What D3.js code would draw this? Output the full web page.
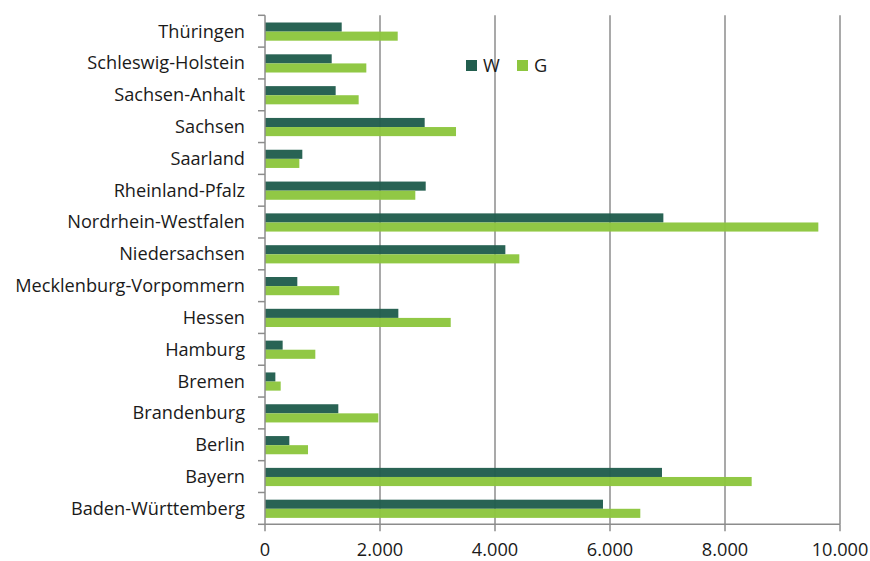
<!DOCTYPE html>
<html><head><meta charset="utf-8">
<script src="https://cdn.jsdelivr.net/npm/d3@7"></script>
<style>body{margin:0;background:#fff}svg{display:block}text{font-family:"Open Sans",Lato,sans-serif;fill:#1a1a1a}</style>
</head><body><svg id="c" width="870" height="561"></svg>
<script>
const categories = ["Thüringen","Schleswig-Holstein","Sachsen-Anhalt","Sachsen","Saarland","Rheinland-Pfalz","Nordrhein-Westfalen","Niedersachsen","Mecklenburg-Vorpommern","Hessen","Hamburg","Bremen","Brandenburg","Berlin","Bayern","Baden-Württemberg"];
const seriesNames = ["W","G"];
const valuesW = [1334,1160,1229,2777,649,2795,6928,4180,562,2319,307,180,1275,423,6904,5878];
const valuesG = [2308,1762,1629,3322,597,2614,9623,4423,1292,3230,875,273,1971,748,8464,6527];
const xTicks = [0,2000,4000,6000,8000,10000];
const colors = {W:"#225E4E", G:"#8DC63F"};

const svg = d3.select("#c");
const pLeft = 265, pRight = 840, pTop = 15.3, pBottom = 524.3;
const x = d3.scaleLinear().domain([0,10000]).range([pLeft,pRight]);
const y = d3.scaleBand().domain(categories).range([pTop,pBottom]).padding(0);
const y1 = d3.scaleBand().domain(seriesNames).range([7.2,25.4]).padding(0);
const fmt = v => d3.format(",")(v).replace(/,/g,".");

// gridlines
svg.append("g").selectAll("line").data(xTicks.slice(1)).join("line")
  .attr("x1",d=>x(d)).attr("x2",d=>x(d)).attr("y1",pTop).attr("y2",pBottom)
  .attr("stroke","#8c8c8c").attr("stroke-width",1.5);

// bars
const data = categories.map((c,i)=>({c, W:valuesW[i], G:valuesG[i]}));
const g = svg.append("g").selectAll("g").data(data).join("g")
  .attr("transform",d=>`translate(0,${y(d.c)})`);
g.selectAll("rect").data(d=>seriesNames.map(s=>({s,v:d[s]}))).join("rect")
  .attr("x",x(0)).attr("y",d=>y1(d.s)).attr("width",d=>x(d.v)-x(0)).attr("height",y1.bandwidth())
  .attr("fill",d=>colors[d.s]).attr("fill-opacity",0.97);

// y axis
const yAxisG = svg.append("g");
yAxisG.append("line").attr("x1",pLeft).attr("x2",pLeft).attr("y1",pTop).attr("y2",pBottom)
  .attr("stroke","#8c8c8c").attr("stroke-width",1.5);
const bounds = categories.map(c=>y(c)).concat([pBottom]);
yAxisG.selectAll("line.t").data(bounds).join("line").attr("class","t")
  .attr("x1",pLeft-7).attr("x2",pLeft).attr("y1",d=>d).attr("y2",d=>d)
  .attr("stroke","#8c8c8c").attr("stroke-width",1.5);

// fit font size
const probe = svg.append("text").attr("font-size",100).text("Mecklenburg-Vorpommern");
const w = probe.node().getComputedTextLength(); probe.remove();
const fs = Math.min(20, 230/w*100);

yAxisG.selectAll("text").data(categories).join("text")
  .attr("x",245).attr("y",d=>y(d)+y.bandwidth()/2).attr("dy","0.35em")
  .attr("text-anchor","end").attr("font-size",fs).text(d=>d);

// x axis
const xAxisG = svg.append("g");
xAxisG.append("line").attr("x1",pLeft).attr("x2",pRight).attr("y1",pBottom).attr("y2",pBottom)
  .attr("stroke","#8c8c8c").attr("stroke-width",1.5);
xAxisG.selectAll("line.t").data(xTicks).join("line").attr("class","t")
  .attr("x1",d=>x(d)).attr("x2",d=>x(d)).attr("y1",pBottom).attr("y2",pBottom+7)
  .attr("stroke","#8c8c8c").attr("stroke-width",1.5);
xAxisG.selectAll("text").data(xTicks).join("text")
  .attr("x",d=>x(d)).attr("y",550).attr("dy","0.35em").attr("text-anchor","middle")
  .attr("font-size",fs).text(fmt);

// legend
const leg = svg.append("g");
const legX = {W:466, G:517};
seriesNames.forEach(s=>{
  leg.append("rect").attr("x",legX[s]).attr("y",60).attr("width",11).attr("height",11).attr("fill",colors[s]);
  leg.append("text").attr("x",legX[s]+17).attr("y",66).attr("dy","0.35em").attr("font-size",fs).text(s);
});
</script></body></html>
